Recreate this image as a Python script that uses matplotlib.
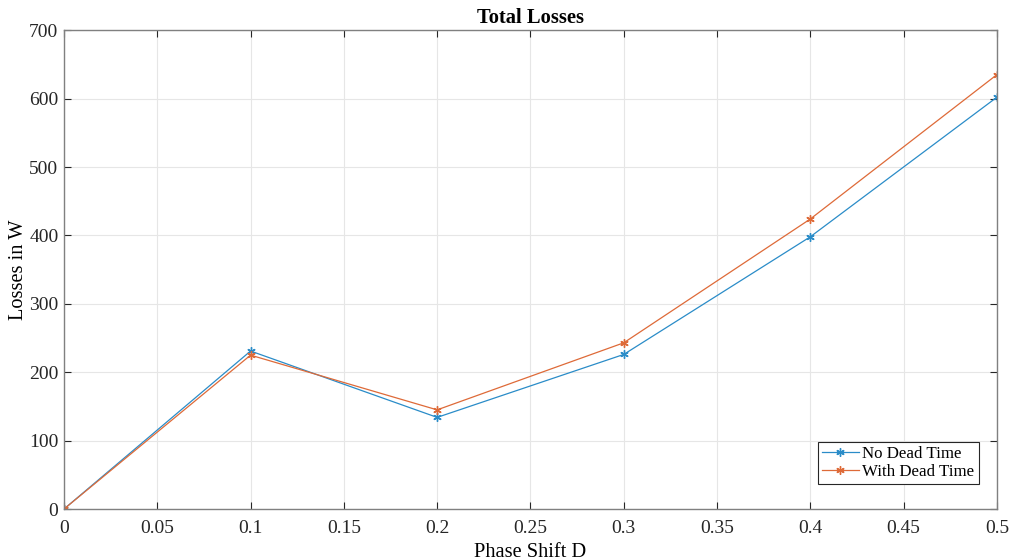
import matplotlib
matplotlib.use('Agg')
import matplotlib.pyplot as plt

# Phase shift sweep and measured losses
phase_shift = [0, 0.1, 0.2, 0.3, 0.4, 0.5]
loss_no_dead = [0, 231, 134, 226, 398, 602]
loss_with_dead = [0, 225, 145, 243, 424, 635]

x_ticks = [0, 0.05, 0.1, 0.15, 0.2, 0.25, 0.3, 0.35, 0.4, 0.45, 0.5]
x_tick_labels = ['0', '0.05', '0.1', '0.15', '0.2', '0.25', '0.3', '0.35', '0.4', '0.45', '0.5']
y_ticks = [0, 100, 200, 300, 400, 500, 600, 700]

plt.rcParams['font.family'] = ['Liberation Serif', 'DejaVu Serif']

fig = plt.figure(figsize=(10.11, 5.6), dpi=100)
ax = fig.add_axes([0.0633, 0.091, 0.9227, 0.855])

# asterisk markers like the MATLAB '*' style
star = (6, 2, 0)
ax.plot(phase_shift, loss_no_dead, color='#2a8cc8', marker=star, markersize=6,
        markeredgewidth=1.0, linewidth=0.9, label='No Dead Time')
ax.plot(phase_shift, loss_with_dead, color='#de6a38', marker=star, markersize=6,
        markeredgewidth=1.0, linewidth=0.9, label='With Dead Time')

ax.set_xlim(0, 0.5)
ax.set_ylim(0, 700)
ax.set_xticks(x_ticks)
ax.set_xticklabels(x_tick_labels)
ax.set_yticks(y_ticks)
ax.tick_params(direction='in', top=True, right=True, labelsize=14,
               colors='#262626', length=5, width=0.8)
ax.tick_params(axis='x', pad=8)
ax.tick_params(axis='y', pad=4)
for spine in ax.spines.values():
    spine.set_color('#808080')
    spine.set_linewidth(1.0)
ax.grid(True, color='#e6e6e6', linewidth=0.8)

ax.set_title('Total Losses', fontsize=14.8, fontweight='bold', pad=5)
ax.set_xlabel('Phase Shift D', fontsize=14.7, labelpad=4)
ax.set_ylabel('Losses in W', fontsize=14.7, labelpad=1)

leg = ax.legend(loc='lower right', bbox_to_anchor=(0.9807, 0.0522),
                fontsize=12.2, fancybox=False, framealpha=1,
                edgecolor='#262626', borderpad=0.25, labelspacing=0.1,
                handlelength=2.2, handletextpad=0.2, borderaxespad=0)
leg.get_frame().set_linewidth(0.8)

fig.savefig('out.png', dpi=100)
